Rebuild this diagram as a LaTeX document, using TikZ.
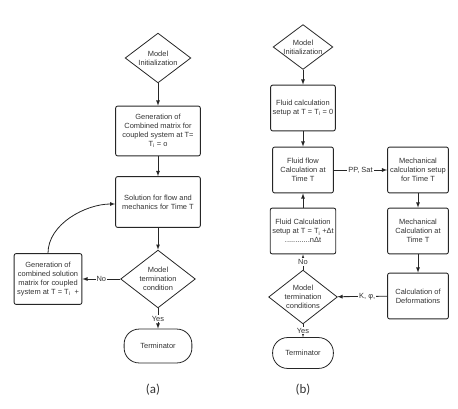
\documentclass[tikz,border=0pt]{standalone}
\usepackage{fontspec}
\setmainfont{Liberation Sans}
\newfontfamily\capfont{Carlito}
\usetikzlibrary{shapes.geometric}
\newcommand{\mkbox}[5]{% #1: name, #2: x, #3: y, #4: width, #5: text
	\node[procbox,minimum width=#4] (#1) at (#2,#3) {#5};
}
\newcommand{\mkdec}[6]{% #1: name, #2: x, #3: y, #4: width, #5: height, #6: text
	\node[decision,minimum width=#4,minimum height=#5] (#1) at (#2,#3) {#6};
}

\begin{document}
\begin{tikzpicture}[x=1bp,y=1bp,
	font=\fontsize{7.5}{9}\selectfont,
	every node/.style={text=black!80},
	procbox/.style={draw=black!85,line width=0.9pt,rounded corners=2pt,align=center,minimum height=46,inner sep=2pt},
	decision/.style={diamond,draw=black!85,line width=0.8pt,aspect=1.3,inner sep=0pt,align=center},
	terminator/.style={draw=black!85,line width=0.8pt,rounded corners=15pt,minimum height=32},
	arr/.style={draw=black!85,line width=0.8pt,-latex},
	lbl/.style={fill=white,inner sep=1pt}]
	\useasboundingbox (0,0) rectangle (458,408);
	
	% Panel (a)
	\mkdec{ainit}{158}{350}{66}{50}{Model\\Initialization}
	\node[procbox,minimum width=85,minimum height=50] (agen) at (158,277) {Generation of\\Combined matrix for\\coupled system at T=\\T\textsubscript{i} = o};
	\node[procbox,minimum width=85,minimum height=51] (asol) at (158,206) {Solution for flow and\\mechanics for Time T};
	\mkdec{aterm}{158}{129}{75}{58}{Model\\termination\\condition}
	\node[procbox,minimum width=68,minimum height=51] (anext) at (48,129) {Generation of\\combined solution\\matrix for coupled\\system at T = T\textsubscript{i}\ \ +};
	\node[terminator,minimum width=68,minimum height=34] (aend) at (158,62) {Terminator};
	\node[font=\capfont\fontsize{13}{15}\selectfont] (acap) at (153,18) {(a)};
	
	\draw[arr] (ainit) -- (agen);
	\draw[arr] (agen) -- (asol);
	\draw[arr] (asol) -- (aterm);
	\draw[arr] (aterm) -- node[lbl] {No} (anext);
	\draw[arr] (aterm) -- node[lbl] {Yes} (aend);
	\draw[arr] (anext.north) to[out=90,in=180,looseness=0.9] ([yshift=-2]asol.west);
	
	% Panel (b)
	\mkdec{binit}{303}{361}{60}{45}{Model\\Initialization}
	\mkbox{bsetup}{303}{300}{61}{Fluid calculation\\setup at T = T\textsubscript{i} = 0}
	\mkbox{bflow}{303}{238}{61}{Fluid flow\\Calculation at\\Time T}
	\mkbox{bmsetup}{418}{238}{61}{Mechanical\\calculation setup\\for Time T}
	\mkbox{bnext}{303}{177}{61}{Fluid Calculation\\setup at T = T\textsubscript{i} +Δt\\............nΔt}
	\mkbox{bmcalc}{418}{177}{61}{Mechanical\\Calculation at\\Time T}
	\mkbox{bdef}{418}{112}{61}{Calculation of\\Deformations}
	\mkdec{bterm}{303}{111}{69}{54}{Model\\termination\\conditions}
	\node[terminator,minimum width=61,minimum height=31] (bend) at (303,55) {Terminator};
	\node[font=\capfont\fontsize{13}{15}\selectfont] (bcap) at (303,18) {(b)};
	
	\draw[arr] (binit) -- (bsetup);
	\draw[arr] (bsetup) -- (bflow);
	\draw[arr] (bflow) -- node[lbl] {PP, Sat} (bmsetup);
	\draw[arr] (bmsetup) -- (bmcalc);
	\draw[arr] (bmcalc) -- (bdef);
	\draw[arr] (bdef) -- node[lbl,pos=0.4] {K, φ,} (bterm);
	\draw[arr] (bterm) -- node[lbl] {No} (bnext);
	\draw[arr] (bnext) -- (bflow);
	\draw[arr] (bterm) -- node[lbl] {Yes} (bend);
\end{tikzpicture}
\end{document}
